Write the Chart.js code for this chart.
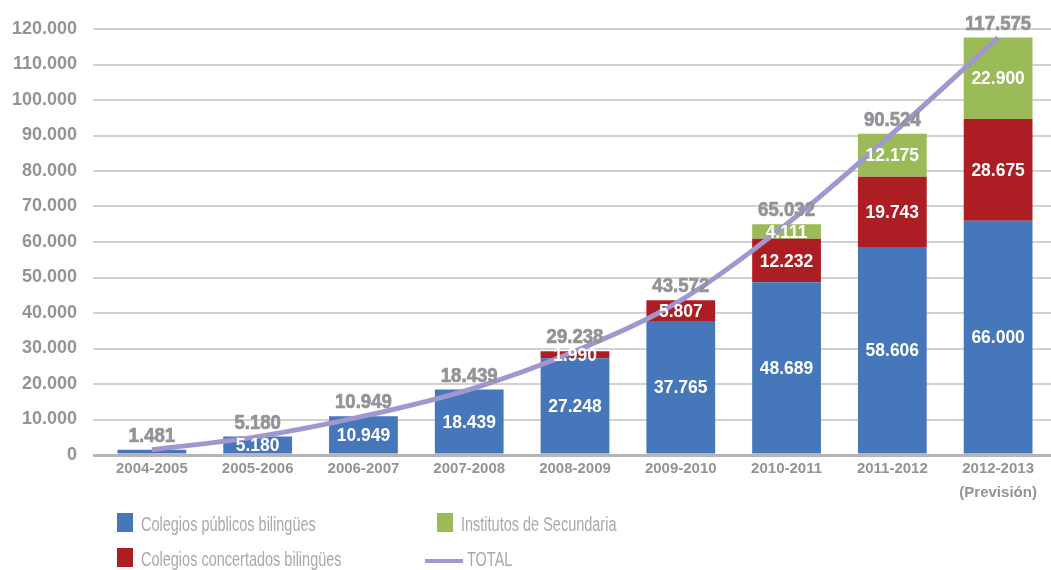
<!DOCTYPE html>
<html>
<head>
<meta charset="utf-8">
<script src="https://cdn.jsdelivr.net/npm/chart.js@4/dist/chart.umd.min.js"></script>
<style>
    html, body { margin: 0; padding: 0; background: #fff; }
    #wrap { position: relative; width: 1051px; height: 570px; overflow: hidden; }
    #chart { position: absolute; left: 0; top: 0; }
    .lg-box { position: absolute; width: 16px; height: 19px; }
    .lg-line { position: absolute; width: 38px; height: 4px; }
    .lg-text {
        position: absolute;
        font-family: "Liberation Sans", Arial, sans-serif;
        font-size: 21px;
        color: #a9a9ad;
        white-space: nowrap;
        transform: scaleX(0.69);
        transform-origin: left top;
        line-height: 1;
    }
</style>
</head>
<body>
<div id="wrap">
    <canvas id="chart" width="1051" height="570"></canvas>
    <div id="legend"></div>
</div>
<script>
/* ---------- Data ---------- */

const categories = [
    '2004-2005', '2005-2006', '2006-2007', '2007-2008', '2008-2009',
    '2009-2010', '2010-2011', '2011-2012', ['2012-2013', '(Previsión)'],
];
const publicos    = [1481, 5180, 10949, 18439, 27248, 37765, 48689, 58606, 66000];
const concertados = [0, 0, 0, 0, 1990, 5807, 12232, 19743, 28675];
const institutos  = [0, 0, 0, 0, 0, 0, 4111, 12175, 22900];
const totals      = [1481, 5180, 10949, 18439, 29238, 43572, 65032, 90524, 117575];
const yTicks      = [0, 10000, 20000, 30000, 40000, 50000, 60000, 70000, 80000, 90000, 100000, 110000, 120000];

const seriesNames = ['Colegios públicos bilingües', 'Colegios concertados bilingües', 'Institutos de Secundaria', 'TOTAL'];

/* ---------- Style ---------- */

const BLUE = '#4677ba';
const RED = '#ad1d24';
const GREEN = '#9bbb59';
const PURPLE = '#a197cf';
const GREY_TEXT = '#939398';
const SANS = '"Liberation Sans", Arial, sans-serif';

function fmt(n) {
    return String(n).replace(/\B(?=(\d{3})+(?!\d))/g, '.');
}

// slightly condensed bold text, centred on x (optional stroke to thicken it)
function squeezedText(ctx, text, x, y, sx, stroke) {
    ctx.save();
    ctx.translate(x, y);
    ctx.scale(sx, 1);
    ctx.fillText(text, 0, 0);
    if (stroke) {
        ctx.lineWidth = stroke;
        ctx.strokeStyle = ctx.fillStyle;
        ctx.strokeText(text, 0, 0);
    }
    ctx.restore();
}

/* ---------- Value labels ---------- */

const valueLabels = {
    id: 'valueLabels',
    afterDatasetsDraw(chart) {
        const ctx = chart.ctx;
        const yScale = chart.scales.y;
        ctx.save();
        ctx.textAlign = 'center';

        // white labels inside the segments
        ctx.fillStyle = '#fff';
        ctx.font = 'bold 19px ' + SANS;
        ctx.textBaseline = 'middle';
        [0, 1, 2].forEach(di => {
            const meta = chart.getDatasetMeta(di);
            const values = chart.data.datasets[di].data;
            meta.data.forEach((bar, i) => {
                if (values[i] < 1500) return;
                const mid = (bar.y + bar.base) / 2;
                squeezedText(ctx, fmt(values[i]), bar.x, mid + 1, 0.92, 0);
            });
        });

        // grey totals above the stacks
        ctx.fillStyle = GREY_TEXT;
        ctx.font = 'bold 20px ' + SANS;
        ctx.textBaseline = 'alphabetic';
        const barMeta = chart.getDatasetMeta(0);
        totals.forEach((t, i) => {
            const x = barMeta.data[i].x;
            const y = yScale.getPixelForValue(t);
            squeezedText(ctx, fmt(t), x, y - 8, 0.93, 0.7);
        });
        ctx.restore();
    },
};

/* ---------- Chart ---------- */

new Chart(document.getElementById('chart'), {
    data: {
        labels: categories,
        datasets: [
            { type: 'bar', label: seriesNames[0], data: publicos, backgroundColor: BLUE, stack: 'a', order: 1 },
            { type: 'bar', label: seriesNames[1], data: concertados, backgroundColor: RED, stack: 'a', order: 1 },
            { type: 'bar', label: seriesNames[2], data: institutos, backgroundColor: GREEN, stack: 'a', order: 1 },
            {
                type: 'line', label: seriesNames[3], data: totals, stack: 'total', order: 0,
                borderColor: PURPLE, borderWidth: 5, pointRadius: 0,
                cubicInterpolationMode: 'monotone', fill: false,
            },
        ],
    },
    options: {
        responsive: false,
        animation: false,
        layout: { padding: { top: 29, right: 0, left: 0, bottom: 0 } },
        datasets: { bar: { barPercentage: 0.65, categoryPercentage: 1 } },
        plugins: {
            legend: { display: false },
            tooltip: { enabled: false },
        },
        scales: {
            x: {
                stacked: true,
                grid: { display: false, drawTicks: false },
                border: { display: false },
                ticks: {
                    color: GREY_TEXT,
                    font: { family: SANS, size: 15, weight: 'bold', lineHeight: 1.6 },
                    padding: 2,
                    maxRotation: 0,
                    autoSkip: false,
                },
                afterFit(scale) { scale.height = 115; },
            },
            y: {
                stacked: true,
                min: 0,
                max: 120000,
                border: { display: false },
                grid: {
                    color: c => (c.tick && c.tick.value === 0 ? '#b5b5b9' : '#d2d2d4'),
                    lineWidth: c => (c.tick && c.tick.value === 0 ? 3 : 2),
                    tickLength: 6,
                },
                afterBuildTicks(scale) { scale.ticks = yTicks.map(v => ({ value: v })); },
                ticks: {
                    color: GREY_TEXT,
                    font: { family: SANS, size: 18, weight: 'bold' },
                    padding: 16,
                    callback: v => fmt(v),
                },
                afterFit(scale) { scale.width = 99; },
            },
        },
    },
    plugins: [valueLabels],
});

/* ---------- Legend ---------- */

const legendItems = [
    { name: seriesNames[0], color: BLUE, kind: 'box', x: 117, y: 513 },
    { name: seriesNames[2], color: GREEN, kind: 'box', x: 437, y: 513 },
    { name: seriesNames[1], color: RED, kind: 'box', x: 117, y: 548 },
    { name: seriesNames[3], color: PURPLE, kind: 'line', x: 425, y: 548 },
];

const legendEl = document.getElementById('legend');
legendItems.forEach(item => {
    const mark = document.createElement('div');
    mark.className = item.kind === 'box' ? 'lg-box' : 'lg-line';
    mark.style.background = item.color;
    mark.style.left = item.x + 'px';
    mark.style.top = (item.kind === 'box' ? item.y : item.y + 11) + 'px';
    legendEl.appendChild(mark);

    const txt = document.createElement('div');
    txt.className = 'lg-text';
    txt.textContent = item.name;
    txt.style.left = (item.kind === 'box' ? item.x + 24 : item.x + 42) + 'px';
    txt.style.top = item.y + 'px';
    legendEl.appendChild(txt);
});
</script>
</body>
</html>
